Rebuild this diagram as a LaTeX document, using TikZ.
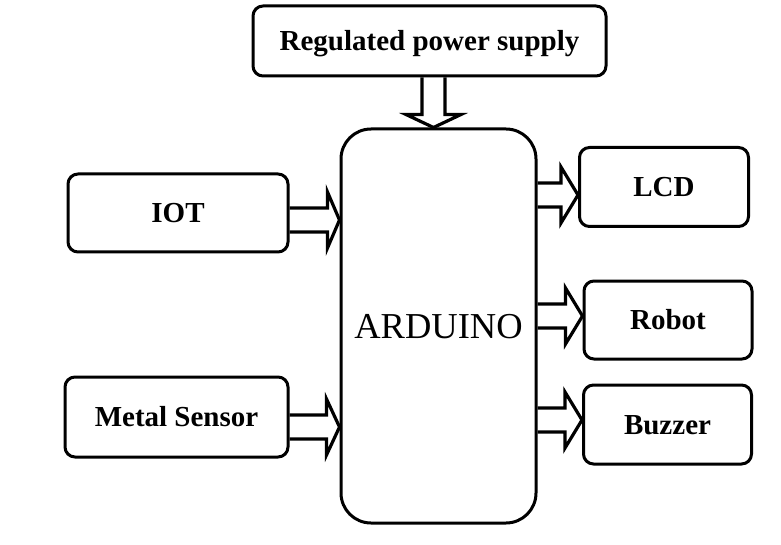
\documentclass[tikz,border=0pt]{standalone}
\usepackage{fontspec}
\setmainfont{Liberation Serif}
\usetikzlibrary{calc}
\tikzset{
  blk/.style={draw, line width=3pt, rounded corners=10pt, inner sep=0pt,
    text height=19pt, text depth=0pt,
    font=\fontsize{29}{32}\selectfont\bfseries},
  bigblk/.style={draw, line width=3pt, rounded corners=30pt, inner sep=0pt,
    text height=24pt, text depth=0pt,
    font=\fontsize{36.5}{40}\selectfont},
  barrow/.style={draw, line width=3.2pt, line join=miter, miter limit=10},
}
% block arrow pointing right: from node, to node, y-coordinate name, head length
\newcommand\blkarrowR[4]{%
  \draw[barrow] ($(#1.east |- #3)+(0,-12)$) -- ($(#2.west |- #3)+(-#4,-12)$)
    -- ($(#2.west |- #3)+(-#4,-28)$) -- (#2.west |- #3)
    -- ($(#2.west |- #3)+(-#4,28)$) -- ($(#2.west |- #3)+(-#4,12)$)
    -- ($(#1.east |- #3)+(0,12)$);}
\begin{document}
\begin{tikzpicture}[x=1pt,y=-1pt]
  \useasboundingbox (0,0) rectangle (781,545);
  % boxes
  \node[blk, minimum width=353pt, minimum height=70pt] (rps) at (429.5,41) {Regulated power supply};
  \node[bigblk, minimum width=195pt, minimum height=394pt] (ard) at (438.5,326) {ARDUINO};
  \node[blk, minimum width=220pt, minimum height=78pt] (iot) at (178,213) {IOT};
  \node[blk, minimum width=223pt, minimum height=80pt] (metal) at (176.5,417) {Metal Sensor};
  \node[blk, minimum width=169pt, minimum height=79pt] (lcd) at (664,187) {LCD};
  \node[blk, minimum width=168pt, minimum height=78pt] (robot) at (668,320) {Robot};
  \node[blk, minimum width=168pt, minimum height=79pt] (buzzer) at (667.5,424.5) {Buzzer};
  % arrow rows
  \coordinate (yiot) at (0,220);
  \coordinate (ymetal) at (0,427);
  \coordinate (ylcd) at (0,195);
  \coordinate (yrobot) at (0,316);
  \coordinate (ybuzzer) at (0,420);
  \coordinate (xpow) at (433.5,0);
  % down arrow
  \draw[barrow] ($(rps.south -| xpow)+(-11.5,0)$) -- ($(ard.north -| xpow)+(-11.5,-13)$)
    -- ($(ard.north -| xpow)+(-27.5,-13)$) -- (ard.north -| xpow)
    -- ($(ard.north -| xpow)+(27.5,-13)$) -- ($(ard.north -| xpow)+(11.5,-13)$)
    -- ($(rps.south -| xpow)+(11.5,0)$);
  % right arrows
  \blkarrowR{iot}{ard}{yiot}{12}
  \blkarrowR{metal}{ard}{ymetal}{13}
  \blkarrowR{ard}{lcd}{ylcd}{17}
  \blkarrowR{ard}{robot}{yrobot}{17}
  \blkarrowR{ard}{buzzer}{ybuzzer}{17}
\end{tikzpicture}
\end{document}
